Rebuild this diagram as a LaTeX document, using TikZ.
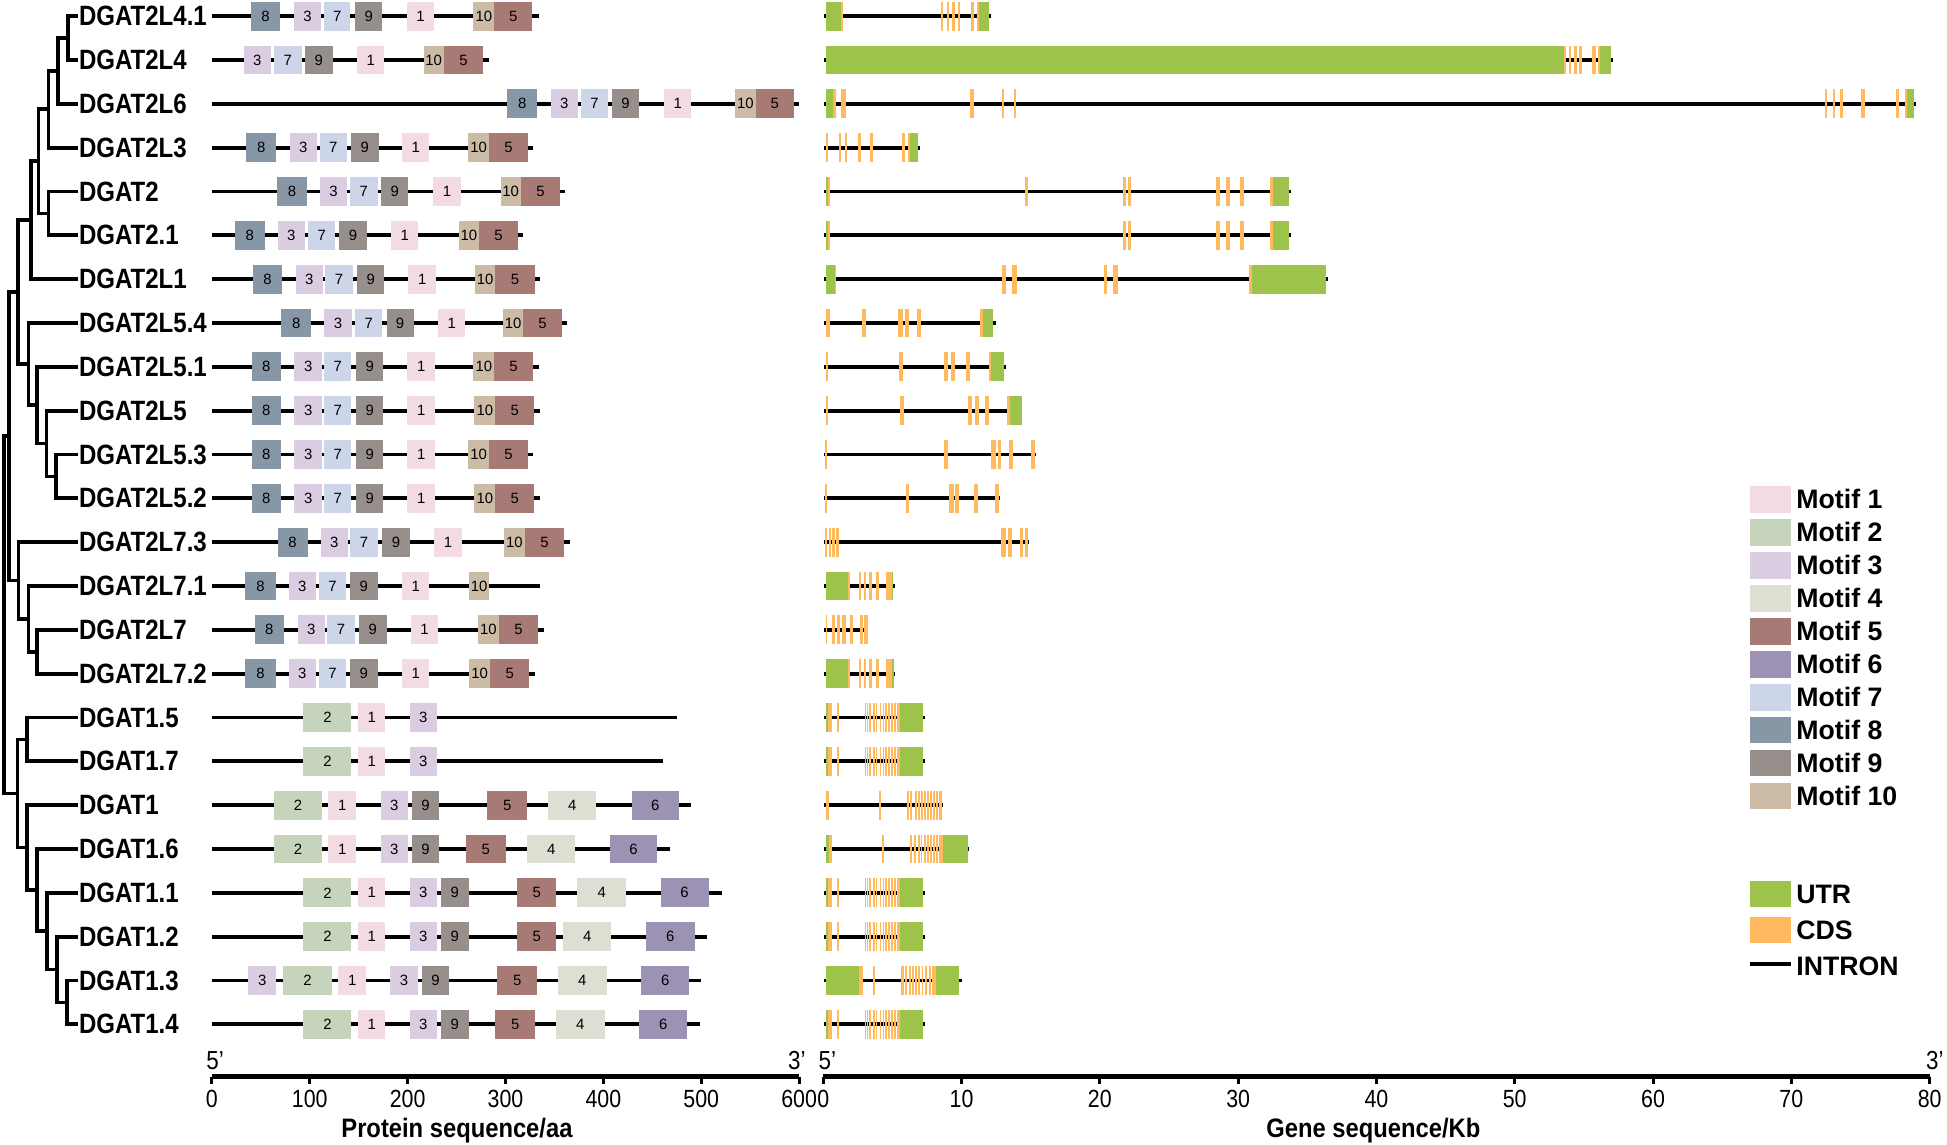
\documentclass[tikz,border=0pt]{standalone}
\usepackage{fontspec}
\setmainfont{Liberation Sans}
\usepackage{graphicx}
\definecolor{mc1}{RGB}{242,219,225}
\definecolor{mc2}{RGB}{197,212,186}
\definecolor{mc3}{RGB}{218,205,226}
\definecolor{mc4}{RGB}{222,222,211}
\definecolor{mc5}{RGB}{168,122,118}
\definecolor{mc6}{RGB}{155,146,180}
\definecolor{mc7}{RGB}{205,214,232}
\definecolor{mc8}{RGB}{135,151,166}
\definecolor{mc9}{RGB}{150,143,139}
\definecolor{mc10}{RGB}{204,188,166}
\definecolor{utrc}{RGB}{157,195,74}
\definecolor{cdsc}{RGB}{255,186,96}
\newcommand\lab[1]{\scalebox{0.86}[1]{#1}}
\newcommand\cnd[1]{\scalebox{0.86}[1]{#1}}
\newcommand\prow[4]{%
  \draw[pline] (405,#2) -- (#3,#2);
  \foreach \m/\a/\b in {#4}{
    \fill[fill=mc\m] (\a,#2-11.6) rectangle (\b,#2+11.6);
    \node[mlab] (p#1-\a) at ({(\a+\b)/2},#2) {\m};
  }}
\newcommand\gline[3]{\draw[gl] (#2,#1) -- (#3,#1);}
\newcommand\gutr[2]{\edef\tmplist{#2}\foreach \a/\b in \tmplist {\fill[utrc] (\a,#1-11.6) rectangle (\b,#1+11.6);}}
\newcommand\gcds[2]{\edef\tmplist{#2}\foreach \a/\b in \tmplist {\fill[cdsc] (\a,#1-11.6) rectangle (\b,#1+11.6);}}
\def\clA{150/154,156/160,163/168,174/179,183/187,195/199,203/207,211/215,219/224,229/234,238/243,246/255}
\newcommand\dgatone[1]{\gline{#1}{28}{330}\gutr{#1}{33/40,255/325}\gcds{#1}{40/52,66/71,\clA}}
\begin{document}
\begin{tikzpicture}[x=1pt,y=-1pt,
  tree/.style={line width=3pt},
  glabel/.style={anchor=west, inner sep=0pt, font=\fontsize{22.5}{22.5}\selectfont\bfseries},
  pline/.style={line width=3pt},
  gl/.style={line width=3.1pt},
  mlab/.style={inner sep=0pt, font=\fontsize{12}{12}\selectfont},
  axisline/.style={line width=3.4pt},
  tickline/.style={line width=2.4pt},
  ticklab/.style={anchor=base, inner sep=0pt, font=\fontsize{20}{20}\selectfont},
  primelab/.style={anchor=base west, inner sep=0pt, font=\fontsize{21}{21}\selectfont},
  axtitle/.style={anchor=base, inner sep=0pt, font=\fontsize{21.5}{21.5}\selectfont\bfseries},
  legt/.style={anchor=west, inner sep=0pt, font=\fontsize{21.5}{21.5}\selectfont\bfseries}]
\useasboundingbox (0,0) rectangle (1568,922);
% ---------------- leaves and labels
\foreach \i/\n in {1/DGAT2L4.1,2/DGAT2L4,3/DGAT2L6,4/DGAT2L3,5/DGAT2,6/DGAT2.1,7/DGAT2L1,8/DGAT2L5.4,9/DGAT2L5.1,10/DGAT2L5,11/DGAT2L5.3,12/DGAT2L5.2,13/DGAT2L7.3,14/DGAT2L7.1,15/DGAT2L7,16/DGAT2L7.2,17/DGAT1.5,18/DGAT1.7,19/DGAT1,20/DGAT1.6,21/DGAT1.1,22/DGAT1.2,23/DGAT1.3,24/DGAT1.4}{
  \coordinate (L\i) at (63,{13+35.3*(\i-1)});
  \node[glabel] (n\i) at (63.5,{13+35.3*(\i-1)}) {\lab{\n}};
}
% ---------------- tree internal nodes
\coordinate (tA) at (55,30.65);
\coordinate (tB) at (47,57.13);
\coordinate (tC) at (39,88.01);
\coordinate (tD) at (39,171.85);
\coordinate (tE) at (31,129.93);
\coordinate (tF) at (25,177.37);
\coordinate (tT) at (45,383.65);
\coordinate (tS) at (37.5,357.18);
\coordinate (tR) at (30,326.29);
\coordinate (tQ) at (23,293.19);
\coordinate (tP) at (14.5,235.28);
\coordinate (tW) at (30,524.85);
\coordinate (tV) at (23,498.38);
\coordinate (tU) at (15,467.49);
\coordinate (tX) at (7,351.39);
\coordinate (tY6) at (54,807.25);
\coordinate (tY5) at (46,780.78);
\coordinate (tY4) at (38,749.89);
\coordinate (tY3) at (30,716.79);
\coordinate (tY2) at (22,682.6);
\coordinate (tY1) at (22,595.45);
\coordinate (tY) at (14,639.03);
\coordinate (tR0) at (3,495.21);
\draw[tree] (L1) -| (tA) |- (L2);
\draw[tree] (tA) -| (tB) |- (L3);
\draw[tree] (tB) -| (tC) |- (L4);
\draw[tree] (L5) -| (tD) |- (L6);
\draw[tree] (tC) -| (tE) |- (tD);
\draw[tree] (tE) -| (tF) |- (L7);
\draw[tree] (L11) -| (tT) |- (L12);
\draw[tree] (L10) -| (tS) |- (tT);
\draw[tree] (L9) -| (tR) |- (tS);
\draw[tree] (L8) -| (tQ) |- (tR);
\draw[tree] (tF) -| (tP) |- (tQ);
\draw[tree] (L15) -| (tW) |- (L16);
\draw[tree] (L14) -| (tV) |- (tW);
\draw[tree] (L13) -| (tU) |- (tV);
\draw[tree] (tP) -| (tX) |- (tU);
\draw[tree] (L23) -| (tY6) |- (L24);
\draw[tree] (L22) -| (tY5) |- (tY6);
\draw[tree] (L21) -| (tY4) |- (tY5);
\draw[tree] (L20) -| (tY3) |- (tY4);
\draw[tree] (L19) -| (tY2) |- (tY3);
\draw[tree] (L17) -| (tY1) |- (L18);
\draw[tree] (tY1) -| (tY) |- (tY2);
\draw[tree] (tX) -| (tR0) |- (tY);
% ---------------- protein motifs
\begin{scope}[x=0.4212pt]
\prow{1}{13}{1030}{8/480/535,3/562/614,7/620/670,9/679/731,1/778/830,10/905/945,5/945/1018}
\prow{2}{48.3}{935}{3/466/518,7/523/577,9/583/636,1/683/735,10/810/848,5/848/924}
\prow{3}{83.6}{1528}{8/970/1027,3/1053/1105,7/1110/1163,9/1170/1222,1/1270/1322,10/1405/1445,5/1445/1518}
\prow{4}{118.9}{1020}{8/471/528,3/554/606,7/611/663,9/671/724,1/769/821,10/895/935,5/935/1010}
\prow{5}{154.2}{1080}{8/530/587,3/611/664,7/669/722,9/729/781,1/828/881,10/957/996,5/996/1071}
\prow{6}{189.5}{1000}{8/449/506,3/531/583,7/589/641,9/649/701,1/748/800,10/877/916,5/916/990}
\prow{7}{224.8}{1032}{8/483/540,3/565/618,7/622/674,9/683/735,1/781/834,10/908/947,5/947/1022}
\prow{8}{260.1}{1085}{8/538/595,3/620/673,7/679/731,9/739/791,1/838/890,10/962/1000,5/1000/1075}
\prow{9}{295.4}{1030}{8/481/537,3/563/616,7/620/672,9/681/733,1/779/832,10/905/945,5/945/1019}
\prow{10}{330.7}{1032}{8/481/537,3/563/616,7/620/672,9/681/733,1/779/832,10/907/947,5/947/1021}
\prow{11}{366}{1020}{8/481/537,3/563/616,7/620/672,9/681/733,1/779/832,10/895/935,5/935/1010}
\prow{12}{401.3}{1032}{8/481/537,3/563/616,7/620/672,9/681/733,1/779/832,10/907/947,5/947/1021}
\prow{13}{436.6}{1090}{8/531/588,3/613/665,7/670/722,9/731/783,1/830/883,10/964/1003,5/1003/1079}
\prow{14}{471.9}{1032}{8/469/527,3/552/604,7/610/662,9/669/722,1/769/821,10/897/935}
\prow{15}{507.2}{1040}{8/487/543,3/569/621,7/626/678,9/686/739,1/785/838,10/914/954,5/954/1029}
\prow{16}{542.5}{1022}{8/469/527,3/552/604,7/610/662,9/669/722,1/769/821,10/897/937,5/937/1012}
\prow{17}{577.8}{1295}{2/580/672,1/685/737,3/783/836}
\prow{18}{613.1}{1267}{2/580/672,1/685/737,3/783/836}
\prow{19}{648.4}{1322}{2/524/616,1/628/681,3/728/780,9/787/840,5/932/1008,4/1048/1140,6/1208/1298}
\prow{20}{683.7}{1281}{2/524/616,1/628/681,3/728/780,9/787/840,5/891/967,4/1008/1100,6/1166/1257}
\prow{21}{719}{1380}{2/580/672,1/685/737,3/783/836,9/843/896,5/989/1064,4/1104/1197,6/1263/1355}
\prow{22}{754.3}{1351}{2/580/672,1/685/737,3/783/836,9/843/896,5/989/1064,4/1077/1169,6/1235/1328}
\prow{23}{789.6}{1340}{3/475/528,2/542/634,1/647/700,3/746/799,9/806/859,5/951/1027,4/1067/1160,6/1226/1318}
\prow{24}{824.9}{1338}{2/580/672,1/685/737,3/783/836,9/843/896,5/947/1023,4/1063/1156,6/1222/1314}
\end{scope}
% ---------------- gene structures
\gline{13}{663.8}{797.7}
\gutr{13}{665.2/677.2,788.1/796.4}
\gcds{13}{677.2/678.6,757.8/759.3,762.8/764,766.3/768.8,771.2/773.3,781.9/784,786.7/788.1}
\gline{48.3}{663.8}{1298.8}
\gutr{48.3}{665.1/1259.7,1288.5/1297.1}
\gcds{48.3}{1259.7/1261,1263.2/1264.9,1267.3/1269.7,1271.7/1274.1,1282/1285.1,1286.8/1288.5}
\gline{83.6}{663.8}{1542.8}
\gutr{83.6}{665.2/671,1535.6/1541.4}
\gcds{83.6}{671/673.2,677.2/681,781.4/784.3,807.1/808.5,816.3/817.9,1469.5/1471.2,1476.3/1478,1481.5/1484.2,1498.9/1501.7,1526.7/1529.4,1533.9/1535.6}
\begin{scope}[xshift=656.3pt,x=0.2684pt]
\gline{118.9}{28}{315}
\gutr{118.9}{285/310}
\gcds{118.9}{34/38,73/79,90/95,129/139,166/173,262/271,280/285}
\end{scope}
\begin{scope}[xshift=652.3pt,x=0.584pt]
\gline{154.2}{20}{663}
\gutr{154.2}{22/25,639/661}
\gcds{154.2}{25/27.5,297/300,432/436,439/443,560/565,574/579,593/599,634/639}
\gline{189.5}{20}{663}
\gutr{189.5}{22/25,639/661}
\gcds{189.5}{25/27.5,432/436,439/443,560/565,574/579,593/599,634/639}
\gline{224.8}{20}{714}
\gutr{224.8}{22/34,610/712}
\gcds{224.8}{34/36,265/270,279/285,405/410,418/425,605/610}
\gline{260.1}{20}{256}
\gutr{260.1}{238/253}
\gcds{260.1}{22/27,72/77,122/128,131/137,147/153,234/238}
\gline{295.4}{20}{270}
\gutr{295.4}{250/268}
\gcds{295.4}{22/25,123/128,185/191,195/200,215/221,247/250}
\gline{330.7}{20}{293}
\gutr{330.7}{276/293}
\gcds{330.7}{22/25,124/129,218/223,228/233,242/247,272/276}
\gline{366}{20}{312}
\gcds{366}{21/24,185/190,250/256,259/264,275/280,305/310}
\gline{401.3}{20}{262}
\gcds{401.3}{21/24,133/137,192/198,200/205,226/232,255/260}
\gline{436.6}{20}{302}
\gcds{436.6}{21/24,26/29,31/34,36/40,263/270,273/278,290/294,296/300}
\end{scope}
\begin{scope}[xshift=656.3pt,x=0.2684pt]
\gline{471.9}{28}{240}
\gutr{471.9}{33/100,230/235}
\gcds{471.9}{100/104,132/138,147/152,162/170,183/191,214/230}
\gline{507.2}{28}{160}
\gcds{507.2}{33/36,52/60,67/74,82/92,104/113,135/145,147/158}
\gline{542.5}{28}{240}
\gutr{542.5}{33/100,230/237}
\gcds{542.5}{100/104,132/138,147/152,162/170,183/191,214/230}
\dgatone{577.8}
\dgatone{613.1}
\gline{648.4}{28}{385}
\gcds{648.4}{33/42,192/197,276/281,284/292,300/305,309/314,318/323,327/332,336/341,345/350,355/360,364/369,373/380}
\gline{683.7}{28}{463}
\gutr{683.7}{33/42,385/460}
\gcds{683.7}{42/50,200/206,285/292,296/302,308/314,318/322,327/332,336/341,345/350,355/360,364/369,373/385}
\dgatone{719}
\dgatone{754.3}
\gline{789.6}{28}{440}
\gutr{789.6}{33/132,362/432}
\gcds{789.6}{132/143,175/180,258/266,270/276,283/288,292/297,300/306,310/315,320/325,330/336,342/348,352/362}
\dgatone{824.9}
\end{scope}
% ---------------- axes
\draw[axisline] (170.6,867) -- (643.6,867);
\foreach \k/\t in {0/0,1/100,2/200,3/300,4/400,5/500,6/600}{
  \draw[tickline] ({170.6+78.83*\k},867) -- ++(0,6);
  \node[ticklab] (pa\k) at ({170.6+78.83*\k},891.5) {\cnd{\t}};
}
\node[primelab] (p5) at (166,861) {\cnd{5'}};
\node[primelab,anchor=base east] (p3) at (649,861) {\cnd{3'}};
\node[axtitle] (ptitle) at (368,916) {\scalebox{0.89}[1]{Protein sequence/aa}};
\draw[axisline] (663,867) -- (1554,867);
\foreach \k/\t in {0/0,1/10,2/20,3/30,4/40,5/50,6/60,7/70,8/80}{
  \draw[tickline] ({663+111.375*\k},867) -- ++(0,6);
  \node[ticklab] (ga\k) at ({663+111.375*\k},891.5) {\cnd{\t}};
}
\node[primelab] (g5) at (659,861) {\cnd{5'}};
\node[primelab] (g3) at (1551,861) {\cnd{3'}};
\node[axtitle] (gtitle) at (1106,916) {\scalebox{0.89}[1]{Gene sequence/Kb}};
% ---------------- legend
\foreach \k in {1,...,10}{
  \pgfmathsetmacro\ly{402.2+26.55*(\k-1)}
  \fill[fill=mc\k] (1409,\ly-10.7) rectangle (1442,\ly+10.7);
  \node[legt] (lg\k) at (1446.5,\ly) {Motif \k};
}
\fill[utrc] (1409,709.3) rectangle (1442,730.7);
\node[legt] (lutr) at (1446.5,720) {UTR};
\fill[cdsc] (1409,738.3) rectangle (1442,759.7);
\node[legt] (lcds) at (1446.5,749) {CDS};
\draw[line width=3.2pt] (1409,776) -- (1442,776);
\node[legt] (lint) at (1446.5,778) {INTRON};
\end{tikzpicture}
\end{document}
